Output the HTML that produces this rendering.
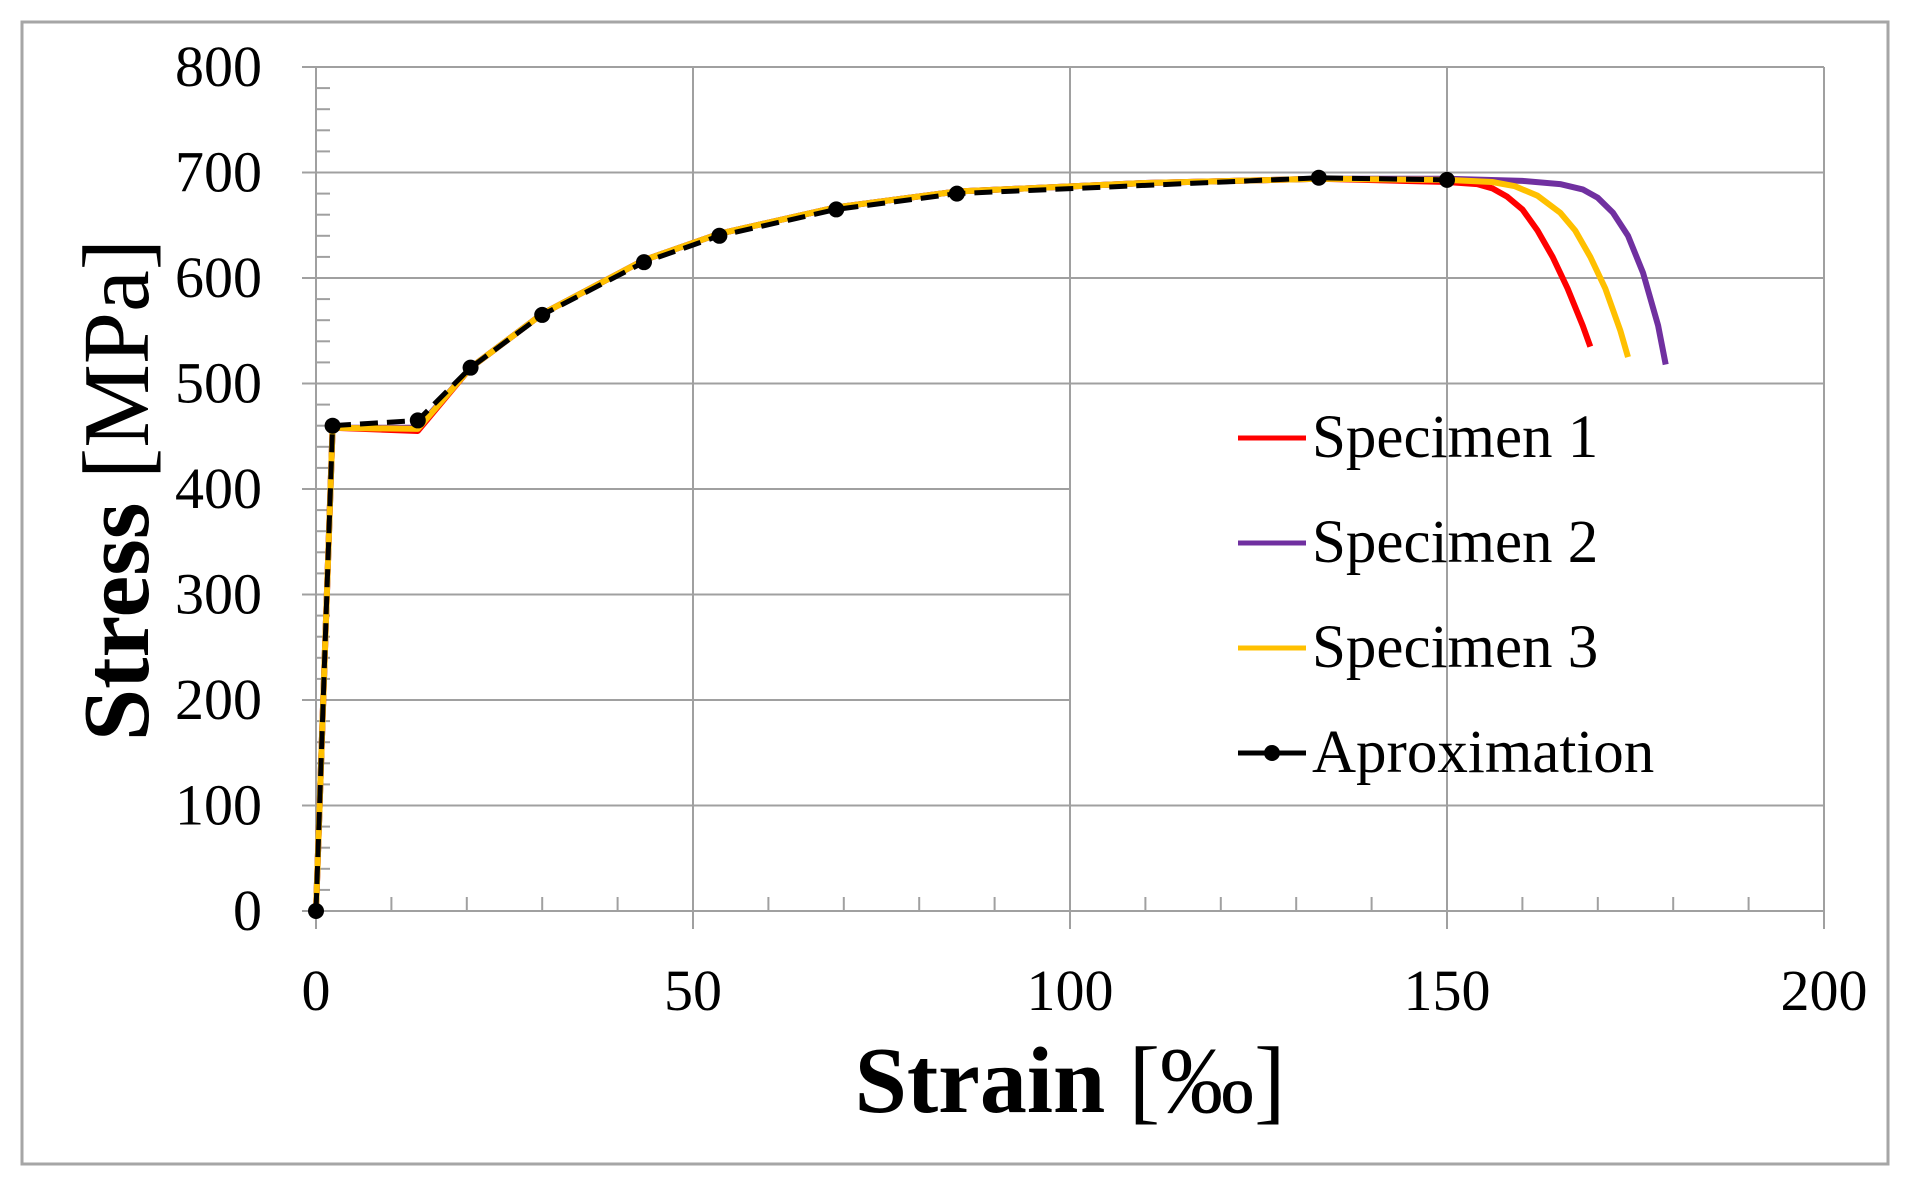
<!DOCTYPE html>
<html><head><meta charset="utf-8"><style>
html,body{margin:0;padding:0;background:#fff;}
svg{display:block;font-family:"Liberation Serif",serif;}
</style></head><body>
<svg id="chart" width="1912" height="1187" viewBox="0 0 1912 1187">
<rect x="22" y="22" width="1866" height="1142" fill="#fff" stroke="#a6a6a6" stroke-width="3"/>
<g id="grid"></g>
<g id="axes"></g>
<g id="series"></g>
<text x="1070" y="1112" text-anchor="middle" font-size="94"><tspan font-weight="bold">Strain</tspan> [‰]</text>
<text transform="translate(148,490) rotate(-90)" text-anchor="middle" font-size="94"><tspan font-weight="bold">Stress</tspan> [MPa]</text>
<g id="legend"></g>
</svg>
<script>
const xTicks=[0,50,100,150,200];
const yTicks=[0,100,200,300,400,500,600,700,800];
const approxX=[0,2.2,13.5,20.5,30,43.5,53.5,69,85,133,150];
const approxY=[0,460,465,515,565,615,640,665,680,695,693];
const s1X=[0,2.2,13.5,20.5,30,43.5,53.5,69,85,110,133,150,154,156,158,160,162,164,166,168,169];
const s1Y=[0,458,455,515,566,617,642,667,682,690,694,691,689,685,677,665,645,620,590,555,535];
const s2X=[0,2.2,13.5,20.5,30,43.5,53.5,69,85,110,133,150,160,165,168,170,172,174,176,178,179];
const s2Y=[0,458,458,515,566,617,642,667,682,690,694,694,692,689,684,676,662,640,605,555,518];
const s3X=[0,2.2,13.5,20.5,30,43.5,53.5,69,85,110,133,150,156,159,162,165,167,169,171,173,174];
const s3Y=[0,458,457,515,566,617,642,667,682,690,694,693,691,687,678,662,645,620,590,550,525];
const NS="http://www.w3.org/2000/svg";
const X0=316,X1=1824,Y0=911,Y1=67;
const sx=v=>X0+(v-0)/(200-0)*(X1-X0);
const sy=v=>Y0-(v-0)/(800-0)*(Y0-Y1);
function mk(tag,parent,attrs){const e=document.createElementNS(NS,tag);for(const k in attrs)e.setAttribute(k,attrs[k]);parent.appendChild(e);return e;}
const grid=document.getElementById('grid'),axes=document.getElementById('axes'),ser=document.getElementById('series'),leg=document.getElementById('legend');
yTicks.forEach(v=>{
  const xe=(v>=200&&v<=400)?sx(100):sx(200);
  const l=mk('line',grid,{x1:X0-14,x2:xe,y1:sy(v),y2:sy(v),stroke:'#a0a0a0','stroke-width':2});
  
  
  const t=mk('text',axes,{x:262,y:sy(v)+19,'text-anchor':'end','font-size':58});
  t.textContent=v;
  
  
});
for(let v=20;v<800;v+=20){if(v%100===0)continue;
  const l=mk('line',axes,{x1:X0,x2:X0+14,y1:sy(v),y2:sy(v),stroke:'#a0a0a0','stroke-width':2});
  
  
}
xTicks.forEach(v=>{
  const l=mk('line',grid,{x1:sx(v),x2:sx(v),y1:Y1,y2:Y0+18,stroke:'#a0a0a0','stroke-width':2});
  
  
  const t=mk('text',axes,{x:sx(v),y:1010,'text-anchor':'middle','font-size':58});
  t.textContent=v;
  
  
});
for(let v=10;v<200;v+=10){if(v%50===0)continue;
  const l=mk('line',axes,{x1:sx(v),x2:sx(v),y1:Y0,y2:Y0-14,stroke:'#a0a0a0','stroke-width':2});
  
  
}
function path(xs,ys){return xs.map((x,i)=>(i?'L':'M')+sx(x).toFixed(1)+','+sy(ys[i]).toFixed(1)).join('');}
const specs=[[s1X,s1Y,'#ff0000','specimen-1-line'],[s2X,s2Y,'#7030a0','specimen-2-line'],[s3X,s3Y,'#ffc000','specimen-3-line']];
specs.forEach(s=>{
  const p=mk('path',ser,{d:path(s[0],s[1]),fill:'none',stroke:s[2],'stroke-width':6,'stroke-linejoin':'round'});
  
  
});
const ap=mk('path',ser,{d:path(approxX,approxY),fill:'none',stroke:'#000','stroke-width':5,'stroke-dasharray':'18,9'});


approxX.forEach((x,i)=>{
  const c=mk('circle',ser,{cx:sx(x),cy:sy(approxY[i]),r:8,fill:'#000'});
  
  
});
const legItems=[['Specimen 1','#ff0000',false],['Specimen 2','#7030a0',false],['Specimen 3','#ffc000',false],['Aproximation','#000',true]];
legItems.forEach((it,i)=>{
  const y=438+i*105;
  const l=mk('line',leg,{x1:1238,x2:1306,y1:y,y2:y,stroke:it[1],'stroke-width':5});
  
  
  if(it[2]){const c=mk('circle',leg,{cx:1272,cy:y,r:8,fill:'#000'});
    
    }
  const t=mk('text',leg,{x:1312,y:y+19,'font-size':61});
  t.textContent=it[0];
  
  
});
</script>
</body></html>
